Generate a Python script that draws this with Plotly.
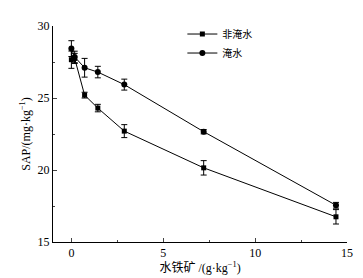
import plotly.graph_objects as go

x_vals = [0, 0.18, 0.72, 1.44, 2.88, 7.2, 14.4]
non_flooded = [27.66, 27.75, 25.2, 24.3, 22.7, 20.15, 16.75]
non_flooded_err = [0.6, 0.35, 0.2, 0.26, 0.45, 0.5, 0.5]
flooded = [28.43, 27.85, 27.1, 26.8, 25.93, 22.66, 17.55]
flooded_err = [0.55, 0.4, 0.65, 0.4, 0.38, 0.15, 0.2]

x_ticks = [0, 5, 10, 15]
y_ticks = [15, 20, 25, 30]

font_main = "Liberation Serif, Times New Roman, Noto Sans CJK SC, serif"

fig = go.Figure()
fig.add_trace(go.Scatter(
    x=x_vals, y=non_flooded, name="非淹水", mode="lines+markers",
    line=dict(color="black", width=1),
    marker=dict(symbol="square", size=5, color="black"),
    error_y=dict(type="data", array=non_flooded_err, color="black", thickness=1, width=3),
))
fig.add_trace(go.Scatter(
    x=x_vals, y=flooded, name="淹水", mode="lines+markers",
    line=dict(color="black", width=1),
    marker=dict(symbol="circle", size=6, color="black"),
    error_y=dict(type="data", array=flooded_err, color="black", thickness=1, width=3),
))

fig.update_layout(
    width=363, height=278,
    margin=dict(l=45, r=24, t=18, b=44),
    paper_bgcolor="white", plot_bgcolor="white",
    font=dict(family=font_main, size=12, color="black"),
    showlegend=True,
    legend=dict(x=0.44, y=1.03, xanchor="left", yanchor="top",
                bgcolor="rgba(0,0,0,0)", font=dict(family="Noto Sans CJK SC", size=10),
                itemwidth=30, tracegroupgap=0),
    xaxis=dict(range=[-1, 15], tickvals=x_ticks, ticks="inside", ticklen=4,
               showline=True, linecolor="black", linewidth=1, mirror=False,
               showgrid=False, zeroline=False,
               minor=dict(dtick=2.5, tick0=0, ticks="inside", ticklen=2, showgrid=False),
               title=dict(text="水铁矿 /(g·kg<sup>−1</sup>)", standoff=0,
                          font=dict(family=font_main, size=12))),
    yaxis=dict(range=[15, 30], tickvals=y_ticks, ticks="inside", ticklen=4,
               showline=True, linecolor="black", linewidth=1, mirror=False,
               showgrid=False, zeroline=False,
               minor=dict(dtick=2.5, tick0=15, ticks="inside", ticklen=2, showgrid=False),
               title=dict(text="SAP/(mg·kg<sup>−1</sup>)", standoff=4,
                          font=dict(family=font_main, size=12))),
)

fig.write_html("out.html")
